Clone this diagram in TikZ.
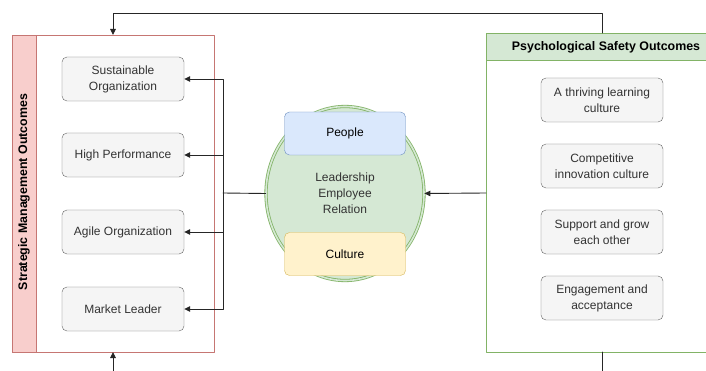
\documentclass[tikz,border=0pt]{standalone}
\usepackage{fontspec}
\setmainfont{Liberation Sans}
\usetikzlibrary{arrows.meta, positioning, shapes}
\definecolor{redfill}{HTML}{F8CECC}
\definecolor{redline}{HTML}{B85450}
\definecolor{greenfill}{HTML}{D5E8D4}
\definecolor{greenline}{HTML}{82B366}
\definecolor{bluefill}{HTML}{DAE8FC}
\definecolor{blueline}{HTML}{6C8EBF}
\definecolor{yellowfill}{HTML}{FFF2CC}
\definecolor{yellowline}{HTML}{D6B656}
\definecolor{boxfill}{HTML}{F5F5F5}
\definecolor{boxline}{HTML}{666666}
\definecolor{boxtext}{HTML}{333333}

\begin{document}
\begin{tikzpicture}[x=1pt, y=-1pt, line cap=round, line join=round, >={Triangle[length=6pt,width=5.5pt]},
    txt/.style={font=\fontsize{12}{16}\selectfont, text=boxtext, align=center},
    outcome/.style={txt, draw=boxline, fill=boxfill, rounded corners=5pt, minimum width=122pt, minimum height=44pt, inner sep=0pt},
    tag/.style={txt, text=black, rounded corners=5pt, minimum width=121pt, minimum height=43pt, inner sep=0pt},
    title/.style={font=\bfseries\fontsize{12.4}{14}\selectfont},
    link/.style={draw=black!85, line width=0.9pt}]
    	\clip (0,0) rectangle (706,371);
    	\fill[white] (0,0) rectangle (706,371);

		% strategic management container
		\draw [redline!80,fill=white,line width=0.9pt] (12,35) rectangle (214,352);
		\draw [redline!80,fill=redfill,line width=0.9pt] (12,35) rectangle (36,352);
		\node [title,rotate=90] (smo) at (24,192) {Strategic Management Outcomes};
		\coordinate (smotop) at (113,35);
		\coordinate (smobot) at (113,352);

		\node [outcome] (sust) at (123,79) {Sustainable\\Organization};
		\node [outcome] (perf) at (123,155) {High Performance};
		\node [outcome] (agile) at (123,232) {Agile Organization};
		\node [outcome] (market) at (123,309) {Market Leader};

		% psychological safety container
		\draw [greenline,fill=white,line width=0.9pt] (486,33) rectangle (726,352);
		\draw [greenline,fill=greenfill,line width=0.9pt] (486,33) rectangle (726,60);
		\node [title] (pso) at (606,47) {Psychological Safety Outcomes};
		\coordinate (psoleft) at (486,193);
		\coordinate (psotop) at (602,33);
		\coordinate (psobot) at (602,352);

		\node [outcome] (learn) at (602,100) {A thriving learning\\culture};
		\node [outcome] (innov) at (602,166) {Competitive\\innovation culture};
		\node [outcome] (grow) at (602,232) {Support and grow\\each other};
		\node [outcome] (engage) at (602,298) {Engagement and\\acceptance};

		% leadership employee relation
		\node [ellipse,draw=greenline,fill=greenfill,line width=0.8pt,double=greenfill,double distance=1.6pt,
		       minimum width=158pt,minimum height=174pt,txt] (ler) at (345,193.5) {Leadership\\Employee\\Relation};
		\node [tag,draw=blueline,fill=bluefill] (people) at (345,133.5) {People};
		\node [tag,draw=yellowline,fill=yellowfill] (culture) at (345,254) {Culture};

		% connectors
		\coordinate (bus) at (223,193);
		\draw [link] (ler.west) -- (bus);
		\draw [link,->] (bus) |- (sust.east);
		\draw [link,->] (bus) |- (perf.east);
		\draw [link,->] (bus) |- (agile.east);
		\draw [link,->] (bus) |- (market.east);

		\draw [link,->] (psoleft) -- (ler.east);
		\draw [link,->] (psotop) -- (602,13) -| (smotop);
		\draw [link,->] (113,371) -- (smobot);
		\draw [link] (psobot) -- (602,371);
    \end{tikzpicture}
\end{document}
